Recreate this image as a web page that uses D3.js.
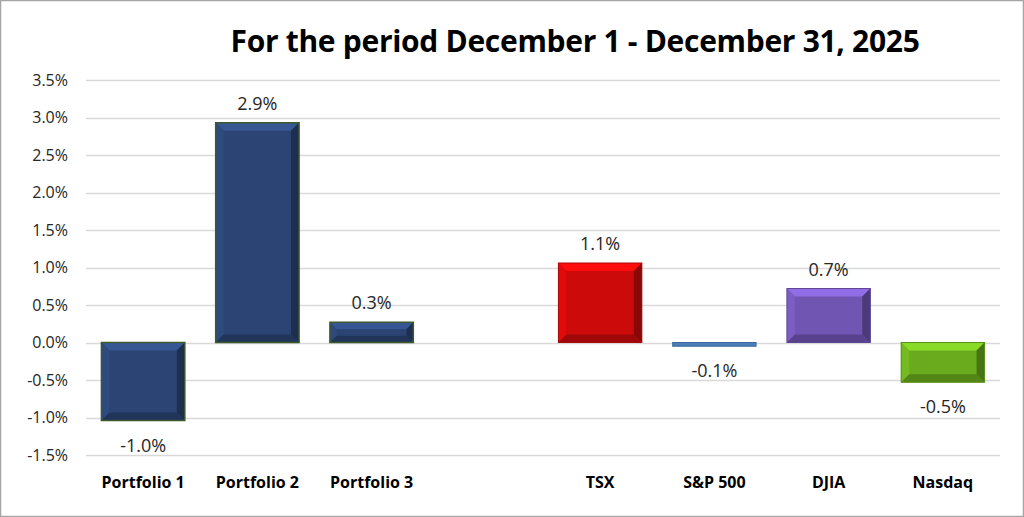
<!DOCTYPE html>
<html>
<head>
<meta charset="utf-8">
<script src="https://cdn.jsdelivr.net/npm/d3@7"></script>
<style>
  body { margin: 0; background: #fff; }
  svg { display: block; }
</style>
</head>
<body>
<svg id="chart" width="1024" height="517"></svg>
<script>
// chart data
var categories = ["Portfolio 1", "Portfolio 2", "Portfolio 3", "", "TSX", "S&P 500", "DJIA", "Nasdaq"];
var values = [-1.04, 2.93, 0.27, null, 1.06, -0.05, 0.72, -0.53];
var labels = ["-1.0%", "2.9%", "0.3%", "", "1.1%", "-0.1%", "0.7%", "-0.5%"];
var barColors = ["#2b4473", "#2b4473", "#2b4473", null, "#cc0a0a", "#4a7ebb", "#7155b3", "#6aab1e"];
var yTicks = [-1.5, -1.0, -0.5, 0.0, 0.5, 1.0, 1.5, 2.0, 2.5, 3.0, 3.5];
var title = "For the period December 1 - December 31, 2025";

var svg = d3.select("#chart");
var margin = { top: 80, left: 86, right: 24, bottom: 62 };
var width = 1024, height = 517;
var font = "Open Sans, sans-serif";

// frame
svg.append("rect")
    .attr("x", 0.5).attr("y", 0.5)
    .attr("width", width - 1).attr("height", height - 1)
    .attr("fill", "#fff").attr("stroke", "#a6a6a6").attr("stroke-width", 1.5);

var x = d3.scaleBand()
    .domain(d3.range(categories.length))
    .range([margin.left, width - margin.right])
    .paddingInner(0.27).paddingOuter(0.135);

var y = d3.scaleLinear()
    .domain([-1.5, 3.5])
    .range([455, 80]);

// gridlines
svg.append("g")
    .selectAll("line")
    .data(yTicks)
    .join("line")
    .attr("x1", margin.left).attr("x2", width - margin.right)
    .attr("y1", function (d) { return Math.round(y(d)) + 0.5; })
    .attr("y2", function (d) { return Math.round(y(d)) + 0.5; })
    .attr("stroke", "#d9d9d9").attr("stroke-width", 1.3);

// y axis labels
var yAxis = svg.append("g")
    .attr("transform", "translate(" + (margin.left - 18) + ",0)")
    .call(d3.axisLeft(y).tickValues(yTicks).tickSize(0).tickFormat(function (d) { return d.toFixed(1) + "%"; }));
yAxis.select(".domain").remove();
yAxis.selectAll("text")
    .attr("font-family", font)
    .attr("font-size", 16)
    .attr("fill", "#262626")
    .attr("x", 0);

// title
svg.append("text")
    .attr("x", 575).attr("y", 52)
    .attr("text-anchor", "middle")
    .attr("font-family", font)
    .attr("font-weight", "bold")
    .attr("font-size", 30)
    .attr("letter-spacing", -0.3)
    .attr("fill", "#000")
    .text(title);

// bars with bevel
var bars = svg.append("g");
var bevel = 8;
values.forEach(function (v, i) {
    if (v === null) return;
    var x0 = x(i), x1 = x(i) + x.bandwidth();
    var yt = y(Math.max(0, v)), yb = y(Math.min(0, v));
    var h = yb - yt;
    var c = d3.color(barColors[i]);
    var g = bars.append("g");
    g.append("rect")
        .attr("x", x0).attr("y", yt)
        .attr("width", x1 - x0).attr("height", h)
        .attr("fill", c);
    if (h > 6) {
        var b = Math.min(bevel, h / 3);
        var ix0 = x0 + b, ix1 = x1 - b, iyt = yt + b, iyb = yb - b;
        var faces = [
            { pts: [[x0, yt], [x1, yt], [ix1, iyt], [ix0, iyt]], col: c.brighter(0.7) },
            { pts: [[x0, yt], [ix0, iyt], [ix0, iyb], [x0, yb]], col: c.brighter(0.25) },
            { pts: [[x1, yt], [x1, yb], [ix1, iyb], [ix1, iyt]], col: c.darker(1.1) },
            { pts: [[x0, yb], [ix0, iyb], [ix1, iyb], [x1, yb]], col: c.darker(0.7) }
        ];
        faces.forEach(function (f) {
            g.append("polygon")
                .attr("points", f.pts.map(function (p) { return p.join(","); }).join(" "))
                .attr("fill", f.col);
        });
    }
    g.append("rect")
        .attr("x", x0).attr("y", yt)
        .attr("width", x1 - x0).attr("height", Math.max(h, 1))
        .attr("fill", "none")
        .attr("stroke", i < 3 ? "#3d5a2e" : c.darker(0.5))
        .attr("stroke-width", i < 3 ? 1.5 : 1);
});

// value labels
svg.append("g")
    .selectAll("text")
    .data(values.map(function (v, i) { return { v: v, i: i }; }).filter(function (d) { return d.v !== null; }))
    .join("text")
    .attr("x", function (d) { return x(d.i) + x.bandwidth() / 2; })
    .attr("y", function (d) { return d.v >= 0 ? y(d.v) - 13 : y(d.v) + 31; })
    .attr("text-anchor", "middle")
    .attr("font-family", font)
    .attr("font-size", 18)
    .attr("fill", "#262626")
    .text(function (d) { return labels[d.i]; });

// category labels
svg.append("g")
    .selectAll("text")
    .data(categories)
    .join("text")
    .attr("x", function (d, i) { return x(i) + x.bandwidth() / 2; })
    .attr("y", 488)
    .attr("text-anchor", "middle")
    .attr("font-family", font)
    .attr("font-weight", "bold")
    .attr("font-size", 16)
    .attr("fill", "#000")
    .text(function (d) { return d; });
</script>
</body>
</html>
